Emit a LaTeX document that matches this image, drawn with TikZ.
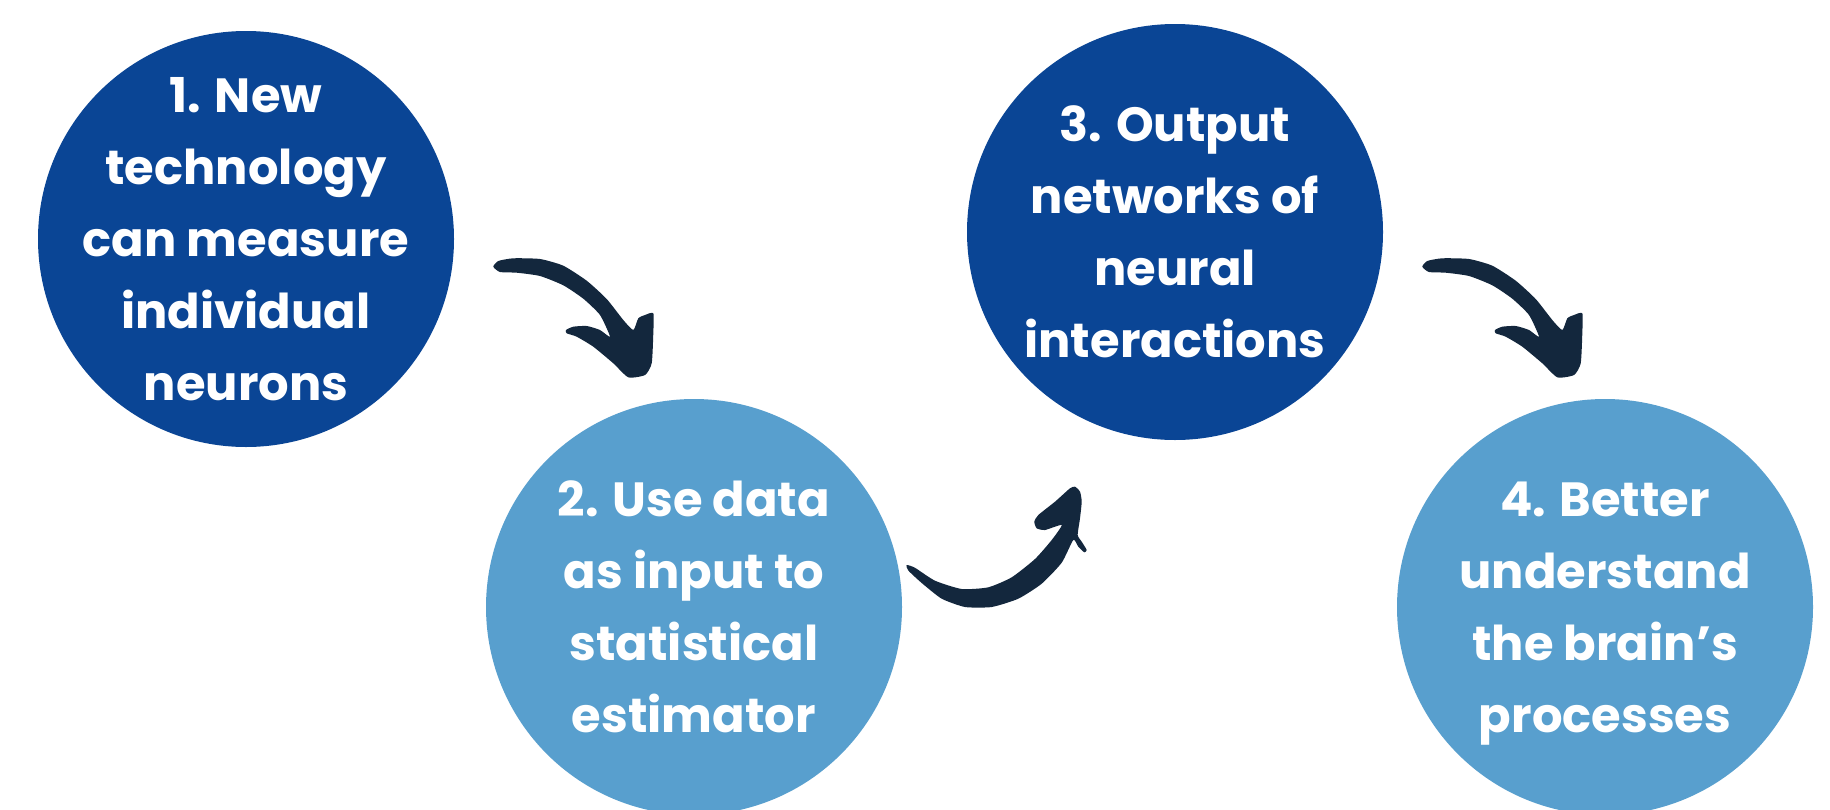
\documentclass[tikz,border=0pt]{standalone}
\usepackage{fontspec}
\setmainfont{Poppins}
\definecolor{darkblue}{HTML}{0A4595}
\definecolor{lightblue}{HTML}{589FCE}
\definecolor{navy}{HTML}{13273D}
\begin{document}
\begin{tikzpicture}[x=1pt,y=-1pt,
  disc/.style={circle, minimum size=416pt, inner sep=0pt, draw=none},
  dark/.style={disc, fill=darkblue},
  light/.style={disc, fill=lightblue},
  steptext/.style={text=white, align=center, inner sep=0pt, font=\fontsize{48}{72}\selectfont\bfseries},
  brush/.style={fill=navy, draw=none},
  downarrow/.pic={
    \fill[brush] plot[smooth cycle, tension=0.35] coordinates {
      (493.3,266.7) (498.3,261) (513.3,258.3) (540,259) (563.3,265.7) (586.7,280.7)
      (606.7,299) (623.3,320) (633.3,330) (638.3,318.3) (645,315) (653.3,313.3)
      (653.3,333.3) (651.7,363.3) (645,375) (628.3,377.3) (613.3,363.3) (593.3,346.7)
      (576.7,336.7) (566.7,333.3) (566,330) (573.3,326.7) (586.7,326) (600,330)
      (610,336.7) (600,315) (583.3,298.7) (563.3,285.3) (540,276) (516.7,272.7)
      (500,272)};
  },
  uparrow/.pic={
    \fill[brush] plot[smooth cycle, tension=0.35] coordinates {
      (906.7,565) (915,567.8) (935,580.7) (961.7,589) (988.3,587.3) (1011.7,577.3)
      (1035,559) (1051.7,540) (1061.7,525) (1045,530) (1036.7,528.3) (1034.3,521.7)
      (1038.3,515) (1055,501.7) (1070,488.3) (1075,486.7) (1080,491.7) (1081.7,501.7)
      (1080,518.3) (1077.7,535) (1081.7,541.7) (1086.7,550) (1084.3,552.3)
      (1078.3,546.7) (1073.3,540) (1061.7,562.7) (1041.7,583.7) (1018.3,598.7)
      (991.7,607) (965,607) (941.7,598.7) (921.7,583) (908.3,570.5)};
  }]
\useasboundingbox (0,0) rectangle (1830,809);
\clip (0,0) rectangle (1830,809);
\fill[white] (0,0) rectangle (1830,809);

\node[dark]  (c1) at (246,239) {};
\node[light] (c2) at (694,607) {};
\node[dark]  (c3) at (1175,232) {};
\node[light] (c4) at (1605,607) {};

\node[steptext] (t1) at (c1) {1. New\\technology\\can measure\\individual\\neurons};
\node[steptext] (t2) at (c2) {2. Use data\\as input to\\statistical\\estimator};
\node[steptext] (t3) at (c3) {3. Output\\networks of\\neural\\interactions};
\node[steptext, yshift=-7pt] (t4) at (c4) {4. Better\\understand\\the brain’s\\processes};

\coordinate (a1) at (0,0);
\coordinate (a2) at (0,0);
\coordinate (a3) at (929,0);
\pic at (a1) {downarrow};
\pic at (a2) {uparrow};
\pic at (a3) {downarrow};
\end{tikzpicture}
\end{document}
